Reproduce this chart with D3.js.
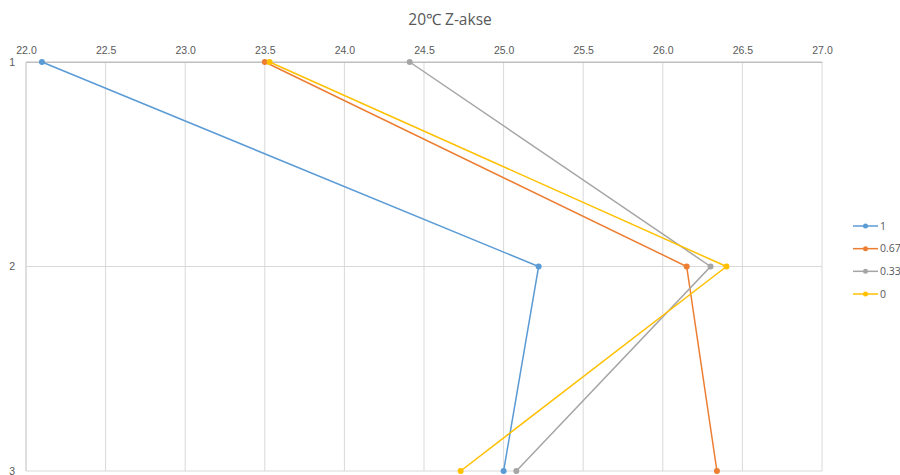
<!DOCTYPE html>
<html>
<head>
<meta charset="utf-8">
<script src="https://cdn.jsdelivr.net/npm/d3@7"></script>
<style>
  html, body { margin: 0; padding: 0; background: #fff; }
  svg { display: block; font-family: "Open Sans", "Liberation Sans", sans-serif; }
</style>
</head>
<body>
<svg id="chart" width="900" height="475"></svg>
<script>
// Measurement depth positions (vertical category axis)
const depths = [1, 2, 3];
// Series names and their temperature readings per depth
const seriesNames = ["1", "0.67", "0.33", "0"];
const values1   = [22.10, 25.22, 25.00];
const values067 = [23.50, 26.15, 26.34];
const values033 = [24.41, 26.30, 25.08];
const values0   = [23.53, 26.40, 24.73];
const seriesColors = ["#5B9BD5", "#ED7D31", "#A5A5A5", "#FFC000"];
// Top axis tick values
const xTicks = [22.0, 22.5, 23.0, 23.5, 24.0, 24.5, 25.0, 25.5, 26.0, 26.5, 27.0];

const series = [values1, values067, values033, values0].map((vals, i) => ({
  name: seriesNames[i],
  color: seriesColors[i],
  points: vals.map((v, j) => ({ x: v, y: depths[j] }))
}));

const svg = d3.select("#chart");
const plotLeft = 26, plotRight = 822, plotTop = 62, plotBottom = 471;

const x = d3.scaleLinear().domain([22, 27]).range([plotLeft, plotRight]);
const y = d3.scaleLinear().domain([1, 3]).range([plotTop, plotBottom]);

// Title
svg.append("text")
  .attr("x", 450).attr("y", 25)
  .attr("text-anchor", "middle")
  .attr("fill", "#595959")
  .style("font-size", "15.5px")
  .text("20℃ Z-akse");

// Vertical gridlines (the first one doubles as the left axis line)
svg.append("g")
  .selectAll("line")
  .data(xTicks)
  .join("line")
  .attr("x1", d => x(d)).attr("x2", d => x(d))
  .attr("y1", plotTop).attr("y2", plotBottom)
  .attr("stroke", (d, i) => i === 0 ? "#BFBFBF" : "#D9D9D9").attr("stroke-width", 1);

// Horizontal gridlines at each depth
svg.append("g")
  .selectAll("line")
  .data(depths)
  .join("line")
  .attr("x1", plotLeft).attr("x2", plotRight)
  .attr("y1", d => y(d)).attr("y2", d => y(d))
  .attr("stroke", d => d === 1 ? "#BFBFBF" : "#D9D9D9").attr("stroke-width", 1);

// Top axis
const xAxis = d3.axisTop(x).tickValues(xTicks).tickFormat(d3.format(".1f")).tickSize(0).tickPadding(8);
const gx = svg.append("g").attr("transform", `translate(0,${plotTop})`).call(xAxis);
gx.select(".domain").attr("stroke", "#BFBFBF");
gx.selectAll("text").attr("fill", "#595959").style("font-size", "10.5px").style("font-family", "inherit");

// Left category axis labels
const yAxis = d3.axisLeft(y).tickValues(depths).tickFormat(d3.format("d")).tickSize(0).tickPadding(11);
const gy = svg.append("g").attr("transform", `translate(${plotLeft},0)`).call(yAxis);
gy.select(".domain").remove();
gy.selectAll("text").attr("fill", "#595959").style("font-size", "10.5px").style("font-family", "inherit");

// Series lines and markers
const line = d3.line().x(d => x(d.x)).y(d => y(d.y));
const gs = svg.append("g");
series.forEach(s => {
  gs.append("path")
    .datum(s.points)
    .attr("d", line)
    .attr("fill", "none")
    .attr("stroke", s.color)
    .attr("stroke-width", 1.5);
  gs.selectAll(null)
    .data(s.points)
    .join("circle")
    .attr("cx", d => x(d.x)).attr("cy", d => y(d.y))
    .attr("r", 3)
    .attr("fill", s.color);
});

// Legend
const legend = svg.append("g").attr("transform", "translate(853,226)");
const legendY = d3.scalePoint().domain(seriesNames).range([0, 68]);
series.forEach(s => {
  const g = legend.append("g").attr("transform", `translate(0,${legendY(s.name)})`);
  g.append("line").attr("x1", 0).attr("x2", 25).attr("y1", 0).attr("y2", 0)
    .attr("stroke", s.color).attr("stroke-width", 1.5);
  g.append("circle").attr("cx", 12.5).attr("cy", 0).attr("r", 2.5).attr("fill", s.color);
  g.append("text").attr("x", 27).attr("y", 0).attr("dy", "0.35em")
    .attr("fill", "#595959").style("font-size", "10.5px").text(s.name);
});
</script>
</body>
</html>
